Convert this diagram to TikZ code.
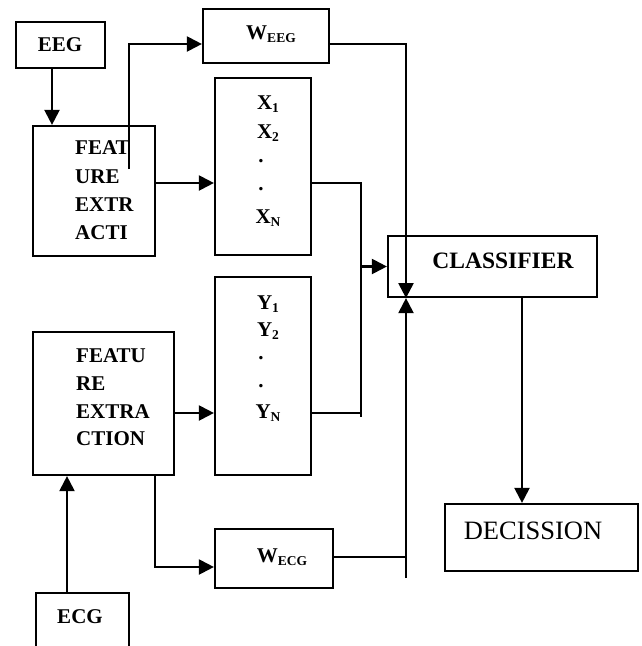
\documentclass[tikz,border=0pt]{standalone}
\usepackage{fontspec}
\setmainfont{Liberation Serif}
\usetikzlibrary{arrows.meta}
\newcommand{\lowsub}[1]{\raisebox{-0.25ex}{\fontsize{13.5}{13.5}\selectfont #1}}
\begin{document}
\begin{tikzpicture}[x=1pt,y=-1pt,
  box/.style={draw,line width=2.2pt,rectangle,inner sep=0pt},
  lbl/.style={font=\fontsize{21}{28}\selectfont\bfseries,inner sep=0pt},
  conn/.style={line width=2.2pt},
  arr/.style={line width=2.2pt,-{Triangle[length=15pt,width=15pt]}}]
\useasboundingbox (0,0) rectangle (642,646);
% boxes
\node[box,minimum width=89pt,minimum height=46pt] (eeg) at (60.5,45) {};
\node[lbl] at (60,45) {EEG};
\node[box,minimum width=122pt,minimum height=130pt] (fe1) at (94,191) {};
\node[lbl,anchor=west] at (75,148) {FEAT};
\node[lbl,anchor=west] at (75,177) {URE};
\node[lbl,anchor=west] at (75,205) {EXTR};
\node[lbl,anchor=west] at (75,233) {ACTI};
\node[box,minimum width=126pt,minimum height=54pt] (weeg) at (266,36) {};
\node[lbl] at (271,34) {W\lowsub{EEG}};
\node[box,minimum width=96pt,minimum height=177pt] (xbox) at (263,166.5) {};
\node[lbl] at (268,104) {X\lowsub{1}};
\node[lbl] at (268,133) {X\lowsub{2}};
\node[lbl] at (261,161) {.};
\node[lbl] at (261,189) {.};
\node[lbl] at (268,218) {X\lowsub{N}};
\node[box,minimum width=209pt,minimum height=61pt] (cls) at (492.5,266.5) {};
\node[font=\fontsize{23.5}{28}\selectfont\bfseries,inner sep=0pt] at (503,261) {CLASSIFIER};
\node[box,minimum width=96pt,minimum height=198pt] (ybox) at (263,376) {};
\node[lbl] at (268,304) {Y\lowsub{1}};
\node[lbl] at (268,331) {Y\lowsub{2}};
\node[lbl] at (261,358) {.};
\node[lbl] at (261,386) {.};
\node[lbl] at (268,413) {Y\lowsub{N}};
\node[box,minimum width=141pt,minimum height=143pt] (fe2) at (103.5,403.5) {};
\node[lbl,anchor=west] at (76,356) {FEATU};
\node[lbl,anchor=west] at (76,384) {RE};
\node[lbl,anchor=west] at (76,412) {EXTRA};
\node[lbl,anchor=west] at (76,439) {CTION};
\node[box,minimum width=118pt,minimum height=59pt] (wecg) at (274,558.5) {};
\node[lbl] at (282,557) {W\lowsub{ECG}};
\node[minimum width=93pt,minimum height=60pt,inner sep=0pt] (ecg) at (82.5,623) {};
\draw[line width=2.2pt] (ecg.south west) |- (ecg.north east) -- (ecg.south east);
\node[lbl] at (80,617) {ECG};
\node[box,minimum width=193pt,minimum height=67pt] (dec) at (541.5,537.5) {};
\node[font=\fontsize{26.5}{28}\selectfont,inner sep=0pt] at (533,531) {DECISSION};
% helper coordinates
\coordinate (xa) at (52,0);
\coordinate (br1) at (129,169);
\coordinate (yw) at (0,44);
\coordinate (yx) at (0,183);
\coordinate (xc) at (406,0);
\coordinate (xm) at (361,0);
\coordinate (yyn) at (0,413);
\coordinate (xf2) at (155,0);
\coordinate (ywe) at (0,567);
\coordinate (ywc) at (0,557);
\coordinate (bot) at (406,578);
\coordinate (xe) at (67,0);
\coordinate (xd) at (522,0);
% connectors
\draw[arr] (eeg.south -| xa) -- (fe1.north -| xa);
\draw[arr] (br1) |- (weeg.west |- yw);
\draw[arr] (fe1.east |- yx) -- (xbox.west |- yx);
\draw[arr] (weeg.east |- yw) -| (cls.south -| xc);
\draw[conn] (xbox.east |- yx) -| (xm |- yyn) -- (ybox.east |- yyn);
\draw[conn] (xm |- yyn) -- ++(0,4);
\draw[arr] (xm |- cls.west) -- (cls.west);
\draw[arr] (fe2.east |- yyn) -- (ybox.west |- yyn);
\draw[arr] (fe2.south -| xf2) |- (wecg.west |- ywe);
\draw[conn] (wecg.east |- ywc) -- (xc |- ywc);
\draw[arr] (bot) -- (cls.south -| xc);
\draw[arr] (ecg.north -| xe) -- (fe2.south -| xe);
\draw[arr] (cls.south -| xd) -- (dec.north -| xd);
\end{tikzpicture}
\end{document}
